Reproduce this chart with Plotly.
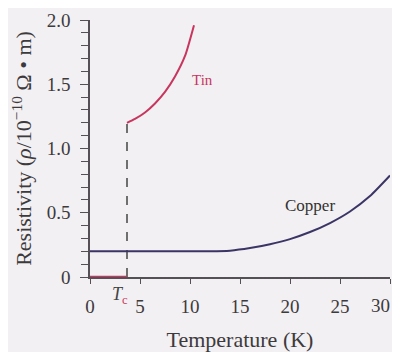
import plotly.graph_objects as go

# Data
tin_T = [3.7, 4.5, 5.5, 6.5, 7.5, 8.5, 9.5, 10.4]
tin_rho = [1.20, 1.23, 1.28, 1.35, 1.44, 1.56, 1.72, 1.96]
tin_super_T = [0, 3.7]
tin_super_rho = [0, 0]
tc_line_T = [3.7, 3.7]
tc_line_rho = [0, 1.20]
cu_T = [0, 12, 14, 16, 18, 20, 22, 24, 26, 28, 30]
cu_rho = [0.20, 0.20, 0.205, 0.225, 0.255, 0.295, 0.35, 0.42, 0.51, 0.63, 0.79]

x_ticks = [0, 5, 10, 15, 20, 25, 30]
x_labels = ["0", "5", "10", "15", "20", "25", ""]
x_last_label = "30"
y_ticks = [0, 0.5, 1.0, 1.5, 2.0]
y_labels = ["0", "0.5", "1.0", "1.5", "2.0"]

TIN = "#c8365f"
CU = "#3b3566"
AX = "#555055"
FONT = "Liberation Serif"

fig = go.Figure()
fig.add_trace(go.Scatter(x=tc_line_T, y=tc_line_rho, mode="lines",
                         line=dict(color="#444", width=1.5, dash="dash"), cliponaxis=False))
fig.add_trace(go.Scatter(x=cu_T, y=cu_rho, mode="lines",
                         line=dict(color=CU, width=2, shape="spline", smoothing=0.6), cliponaxis=False))
fig.add_trace(go.Scatter(x=tin_T, y=tin_rho, mode="lines",
                         line=dict(color=TIN, width=2, shape="spline", smoothing=0.6), cliponaxis=False))
fig.add_trace(go.Scatter(x=tin_super_T, y=tin_super_rho, mode="lines", line=dict(color=TIN, width=2.5),
                         cliponaxis=False))

fig.add_annotation(x=11.2, y=1.53, text="Tin", showarrow=False, font=dict(color=TIN, size=15, family=FONT))
fig.add_annotation(x=22.0, y=0.56, text="Copper", showarrow=False, font=dict(color="#333", size=17, family=FONT))
fig.add_annotation(x=3.0, y=0, yref="y", yshift=-18, text="<i>T</i><sub><span style='color:#c8365f'>c</span></sub>",
                   showarrow=False, font=dict(color="#444", size=18, family=FONT))
fig.add_annotation(x=x_ticks[-1], y=0, yref="y", yshift=-28, xanchor="right", xshift=2, text=x_last_label,
                   showarrow=False, font=dict(color="#3d3a3d", size=19, family=FONT))

fig.update_layout(
    width=392, height=344,
    margin=dict(l=82, r=10, t=12, b=75),
    paper_bgcolor="#f2f0f2", plot_bgcolor="#f2f0f2",
    showlegend=False,
    font=dict(family=FONT, color="#3d3a3d", size=16),
)
fig.update_xaxes(range=[0, 30], tickvals=x_ticks, ticktext=x_labels, showgrid=False, zeroline=False,
                 automargin=False,
                 showline=True, linecolor=AX, linewidth=1.5, ticks="outside", ticklen=5, tickcolor=AX,
                 ticklabelstandoff=6,
                 tickfont=dict(size=19), title=dict(text="Temperature (K)", font=dict(size=22), standoff=30))
fig.update_yaxes(range=[0, 2], tickvals=y_ticks, ticktext=y_labels, showgrid=False, zeroline=False,
                 automargin=False,
                 showline=True, linecolor=AX, linewidth=1.5, ticks="outside", ticklen=8, tickcolor=AX,
                 minor=dict(dtick=0.1, ticks="outside", ticklen=7, tickcolor=AX),
                 ticklabelstandoff=6,
                 tickfont=dict(size=19),
                 title=dict(text="Resistivity (<i>ρ</i>/10<sup>−10</sup> Ω • m)", font=dict(size=22), standoff=27))

fig.write_html("out.html")
